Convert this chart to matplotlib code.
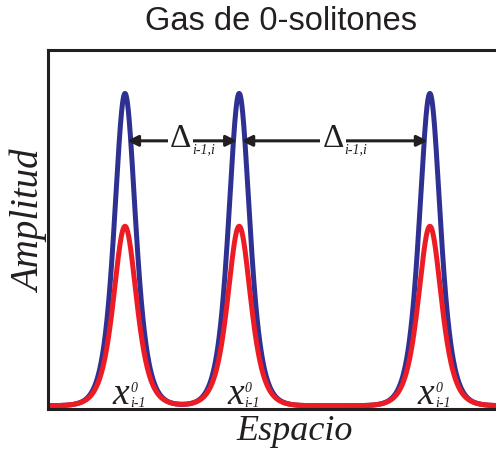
import numpy as np
import matplotlib
matplotlib.use("Agg")
import matplotlib.pyplot as plt

# soliton centres (space units) and shape parameters
centers = [1.70, 4.22, 8.43]
amp_blue = 0.87
width_blue = 0.265
amp_red = 0.50
width_red = 0.29
shape_power = 1.5
baseline = 0.009

delta_label = "\u0394"
delta_sub = "i-1,i"
pos_label = "x"
pos_sup = "0"
pos_sub = "i-1"

blue = "#2e3192"
red = "#ed1c24"
ink = "#231f20"
serif = "Liberation Serif"

x = np.linspace(0, 10.5, 4000)
y_blue = np.full_like(x, baseline)
y_red = np.full_like(x, baseline)
for c in centers:
    y_blue += amp_blue / np.cosh((x - c) / width_blue) ** shape_power
    y_red += amp_red / np.cosh((x - c) / width_red) ** shape_power

fig = plt.figure(figsize=(4.96, 4.50), dpi=100)
ax = fig.add_axes([48 / 496, 41 / 450, 453 / 496, 359 / 450])

ax.plot(x, y_blue, color=blue, lw=3.6, solid_capstyle="round")
ax.plot(x, y_red, color=red, lw=3.6, solid_capstyle="round")

ax.set_xlim(0, 10)
ax.set_ylim(0, 1)
ax.set_xticks([])
ax.set_yticks([])
for s in ["left", "top", "bottom"]:
    ax.spines[s].set_linewidth(2.2)
    ax.spines[s].set_color(ink)
ax.spines["right"].set_visible(False)

# distance arrows between neighbouring peaks
arrow_y = 0.747
spans = [(centers[0], centers[1]), (centers[1], centers[2])]
for a, b in spans:
    ax.annotate("", xy=(a + 0.05, arrow_y), xytext=(b - 0.05, arrow_y),
                arrowprops=dict(arrowstyle="<|-|>", color=ink, lw=2.2,
                                mutation_scale=16, shrinkA=0, shrinkB=0))
    mid = (a + b) / 2
    ax.text(mid - 0.03, arrow_y + 0.005, delta_label, ha="center", va="center",
            fontsize=24, family=serif, color=ink,
            bbox=dict(facecolor="white", edgecolor="none", pad=1.5))
    ax.text(mid + 0.22, arrow_y - 0.035, delta_sub, ha="left", va="baseline",
            fontsize=10, family=serif, style="italic", color=ink)

# position labels under each peak
for c in centers:
    ax.text(c + 0.10, 0.013, pos_label, ha="right", va="baseline",
            fontsize=27, family=serif, style="italic", color=ink)
    ax.text(c + 0.12, 0.048, pos_sup, ha="left", va="baseline",
            fontsize=10, family=serif, style="italic", color=ink)
    ax.text(c + 0.12, 0.006, pos_sub, ha="left", va="baseline",
            fontsize=10, family=serif, style="italic", color=ink)

fig.text(281 / 496, 1 - 30 / 450, "Gas de 0-solitones", ha="center",
         va="baseline", fontsize=23.5, family="Liberation Sans", color=ink)
fig.text(295 / 496, 1 - 432 / 450, "Espacio", ha="center", va="center",
         fontsize=26, family=serif, style="italic", color=ink)
fig.text(30 / 496, 1 - 222 / 450, "Amplitud", ha="center", va="center",
         rotation=90, fontsize=28, family=serif, style="italic", color=ink)

fig.savefig("out.png", dpi=100)
